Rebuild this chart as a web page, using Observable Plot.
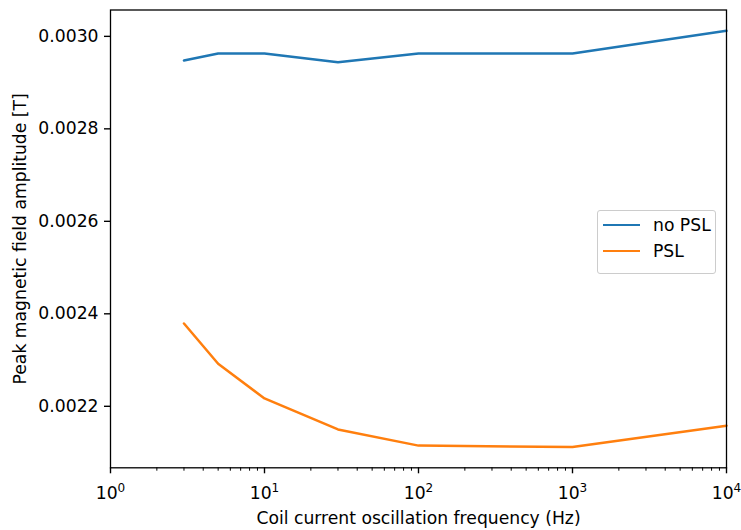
<!DOCTYPE html>
<html>
<head>
<meta charset="utf-8">
<script src="https://cdn.jsdelivr.net/npm/d3@7"></script>
<script src="https://cdn.jsdelivr.net/npm/@observablehq/plot@0.6"></script>
<style>
  html, body { margin: 0; padding: 0; background: #ffffff; }
  #wrap { position: relative; width: 741px; height: 530px; font-family: "DejaVu Sans", sans-serif; }
  #legend {
    position: absolute; left: 597px; top: 210px; width: 119px; height: 64px;
    border: 1px solid #cccccc; border-radius: 3px; background: rgba(255,255,255,0.8);
    box-sizing: border-box;
  }
  .entry { position: absolute; left: 0; height: 20px; }
  .entry .swatch { position: absolute; left: 5px; width: 37px; height: 0; border-top: 2.5px solid; }
  .entry .name { position: absolute; left: 55px; font-size: 17.2px; line-height: 20px; white-space: nowrap; color: #000; }
</style>
</head>
<body>
<div id="wrap"></div>
<script>
// Oscillation frequencies of the coil current (Hz)
const frequencies = [3, 5, 10, 30, 100, 1000, 10000];
// Peak field amplitude (T) without and with the PSL
const noPSL = [0.002948, 0.002963, 0.002963, 0.002944, 0.002963, 0.002963, 0.003012];
const withPSL = [0.002379, 0.002292, 0.002217, 0.002150, 0.002115, 0.002112, 0.002158];

const seriesNames = ["no PSL", "PSL"];
const seriesColors = ["#1f77b4", "#ff7f0e"];

const xMajorTicks = [1, 10, 100, 1000, 10000];
const yTicks = [0.0022, 0.0024, 0.0026, 0.0028, 0.0030];
// log-axis minor ticks: 2..9 within each decade
const xMinorTicks = [1, 10, 100, 1000].flatMap(d => d3.range(2, 10).map(k => k * d));

const rows = [
  ...frequencies.map((f, i) => ({f, b: noPSL[i], series: seriesNames[0]})),
  ...frequencies.map((f, i) => ({f, b: withPSL[i], series: seriesNames[1]}))
];

const chart = Plot.plot({
  width: 741,
  height: 530,
  marginLeft: 110,
  marginRight: 15,
  marginTop: 9.5,
  marginBottom: 62.7,
  style: {fontFamily: "DejaVu Sans", fontSize: "17.2px", color: "#000", background: "#fff", overflow: "visible"},
  x: {type: "log", domain: [1, 10000]},
  y: {domain: [0.002067, 0.003057]},
  color: {domain: seriesNames, range: seriesColors},
  marks: [
    Plot.axisX(xMinorTicks, {tickSize: 3.4, strokeWidth: 1, tickFormat: () => "", label: null}),
    Plot.axisX(xMajorTicks, {
      tickSize: 6, tickPadding: 12.5, strokeWidth: 1.38,
      tickFormat: d => String(Math.round(Math.log10(d))),
      label: "Coil current oscillation frequency (Hz)",
      labelAnchor: "center", labelArrow: "none", labelOffset: 56
    }),
    Plot.axisY(yTicks, {
      tickSize: 6, tickPadding: 6, strokeWidth: 1.38,
      tickFormat: d3.format(".4f"),
      label: "Peak magnetic field amplitude [T]",
      labelAnchor: "center", labelArrow: "none", labelOffset: 96.5
    }),
    Plot.line(rows, {x: "f", y: "b", z: "series", stroke: "series", strokeWidth: 2.5}),
    Plot.frame({stroke: "#000", strokeWidth: 1.3})
  ]
});

// power-of-ten tick labels: base 10 with a raised exponent
d3.select(chart).selectAll('g[aria-label="x-axis tick label"] text').each(function () {
  const exp = this.textContent;
  if (!exp) return;
  const t = d3.select(this);
  t.text("10");
  t.append("tspan").attr("dy", -6.2).attr("font-size", "0.7em").text(exp);
});

const wrap = document.getElementById("wrap");
wrap.appendChild(chart);

// legend
const legend = document.createElement("div");
legend.id = "legend";
seriesNames.forEach((name, i) => {
  const e = document.createElement("div");
  e.className = "entry";
  e.style.top = (4 + i * 26) + "px";
  const sw = document.createElement("div");
  sw.className = "swatch";
  sw.style.top = "9px";
  sw.style.borderTopColor = seriesColors[i];
  const lab = document.createElement("div");
  lab.className = "name";
  lab.textContent = name;
  e.appendChild(sw);
  e.appendChild(lab);
  legend.appendChild(e);
});
wrap.appendChild(legend);
</script>
</body>
</html>
